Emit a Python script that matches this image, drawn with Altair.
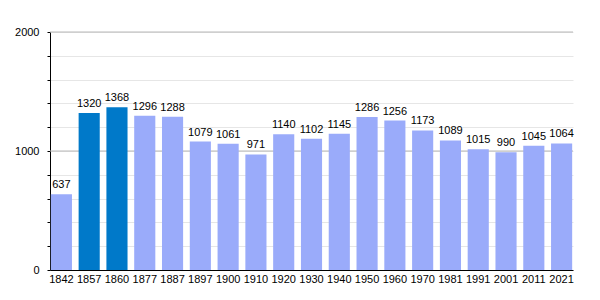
import altair as alt
import pandas as pd

years = ["1842", "1857", "1860", "1877", "1887", "1897", "1900", "1910", "1920", "1930",
         "1940", "1950", "1960", "1970", "1981", "1991", "2001", "2011", "2021"]
population = [637, 1320, 1368, 1296, 1288, 1079, 1061, 971, 1140, 1102,
              1145, 1286, 1256, 1173, 1089, 1015, 990, 1045, 1064]
highlighted = ["1857", "1860"]
grid_values = list(range(0, 2001, 200))
major_values = [1000, 2000]

df = pd.DataFrame({"year": years, "pop": population})
FONT = "Liberation Sans"

x_enc = alt.X("year:N", sort=years,
              scale=alt.Scale(paddingInner=0.24, paddingOuter=0.03),
              axis=alt.Axis(title=None, labelAngle=0, ticks=False, domainColor="black",
                            labelFont=FONT, labelFontSize=11, labelColor="black",
                            labelPadding=3, grid=False))
y_scale = alt.Scale(domain=[0, 2000], nice=False)
y_axis = alt.Axis(title=None, values=grid_values, grid=True, gridColor="#e6e6e6",
                  labelExpr="datum.value % 1000 == 0 ? datum.value : ''",
                  tickSize=3, tickColor="black", domainColor="black",
                  labelFont=FONT, labelFontSize=11, labelColor="black",
                  labelPadding=8)

base = alt.Chart(df)

major = alt.Chart(pd.DataFrame({"v": major_values})).mark_rule(color="#b8b8b8", strokeWidth=1).encode(
    y=alt.Y("v:Q", scale=y_scale, axis=y_axis)
)

bars = base.mark_bar().encode(
    x=x_enc,
    y=alt.Y("pop:Q", scale=y_scale, axis=y_axis),
    color=alt.condition(alt.FieldOneOfPredicate(field="year", oneOf=highlighted),
                        alt.value("#0079c9"), alt.value("#9aabfa")),
)

labels = base.mark_text(baseline="bottom", dy=-4, font=FONT, fontSize=11, color="black").encode(
    x=alt.X("year:N", sort=years), y=alt.Y("pop:Q", scale=y_scale, axis=y_axis), text="pop:Q"
)

chart = alt.layer(major, bars, labels).properties(
    width=523, height=238,
    padding={"left": 50, "top": 32, "right": 27, "bottom": 30},
    autosize=alt.AutoSizeParams(type="none"),
).configure_view(stroke=None).configure_axis(gridOpacity=1)

chart.save("out.html", embed_options={"renderer": "svg", "actions": False})
